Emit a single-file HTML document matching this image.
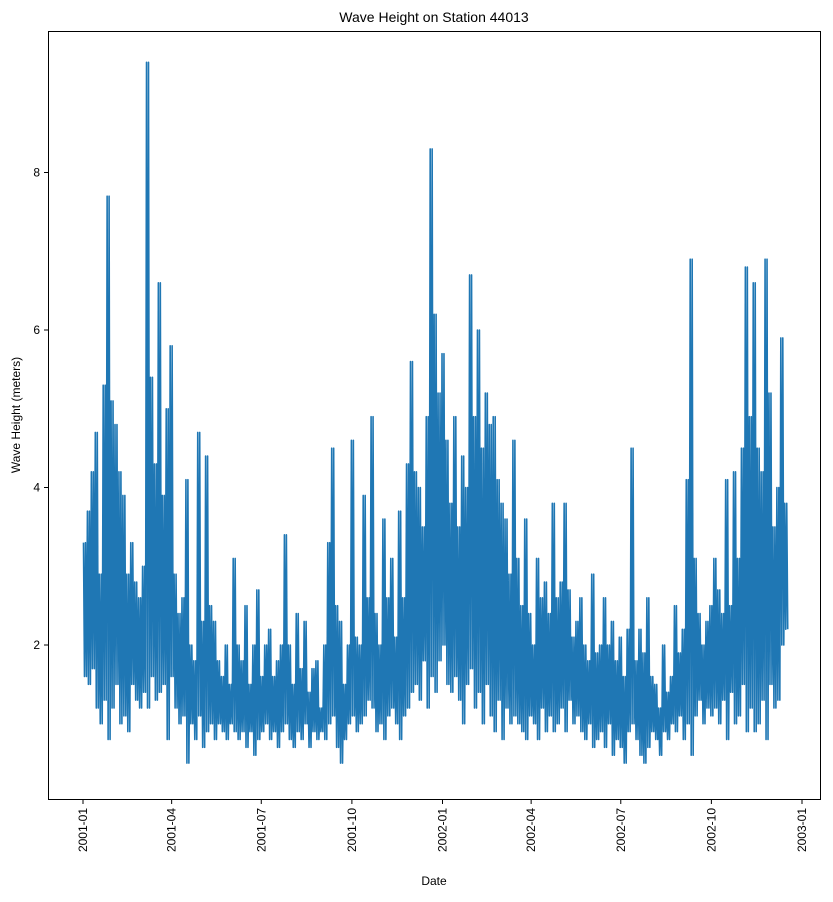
<!DOCTYPE html>
<html><head><meta charset="utf-8"><style>
body{margin:0;background:#fff;}
svg text{font-family:"Liberation Sans",sans-serif;fill:#000;}
</style></head><body>
<svg id="chart" width="833" height="897" xmlns="http://www.w3.org/2000/svg">
<rect width="833" height="897" fill="#fff"/>
<text x="434" y="22" font-size="14" text-anchor="middle">Wave Height on Station 44013</text>
<text transform="translate(20,415) rotate(-90)" font-size="12" text-anchor="middle">Wave Height (meters)</text>
<text x="434" y="885" font-size="12" text-anchor="middle">Date</text>
<g id="ticks"></g>
<polyline id="series" fill="none" stroke="#1f77b4" stroke-width="1.6" stroke-linejoin="round"/>
<rect x="48.5" y="31.5" width="772" height="768" fill="none" stroke="#000" stroke-width="1"/>
</svg>
<script>
const hiVals=[3.3,3.7,4.2,4.7,2.9,5.3,7.7,5.1,4.8,4.2,
3.9,2.9,3.3,2.8,2.6,3.0,9.4,5.4,4.3,6.6,
3.9,5.0,5.8,2.9,2.4,2.6,4.1,2.0,1.8,4.7,
2.3,4.4,2.5,2.3,1.8,1.6,2.0,1.5,3.1,2.0,
1.8,2.5,1.5,2.0,2.7,1.6,2.0,2.2,1.6,1.8,
2.0,3.4,2.0,1.5,2.4,1.7,2.3,1.4,1.7,1.8,
1.2,2.0,3.3,4.5,2.5,2.3,1.5,2.0,4.6,2.1,
2.0,3.9,2.6,4.9,2.4,2.0,3.6,2.6,3.1,2.1,
3.7,2.6,4.3,5.6,4.2,4.0,3.5,4.9,8.3,6.2,
5.2,5.7,4.6,3.8,4.9,3.5,4.4,4.0,6.7,4.9,
6.0,4.5,5.2,4.8,4.9,4.1,3.8,3.6,2.9,4.6,
3.1,2.5,3.6,2.4,2.0,3.1,2.6,2.8,2.4,3.8,
2.6,2.8,3.8,2.7,2.1,2.3,2.6,2.0,1.8,2.9,
1.9,2.0,2.6,2.0,2.3,1.8,2.1,1.6,2.2,4.5,
1.8,2.2,1.9,2.6,1.6,1.5,1.2,2.0,1.4,1.6,
2.5,1.9,2.2,4.1,6.9,3.1,2.4,2.0,2.3,2.5,
3.1,2.7,2.4,4.1,2.5,4.2,3.1,4.5,6.8,4.9,
6.6,4.5,4.2,6.9,5.2,3.5,4.0,5.9,3.8];
const loVals=[1.6,1.5,1.7,1.2,1.0,1.3,0.8,1.2,1.5,1.0,
1.1,0.9,1.5,1.3,1.2,1.4,1.2,1.6,1.3,1.4,
1.5,0.8,1.6,1.2,1.0,1.1,0.5,1.0,0.8,1.1,
0.7,0.9,1.0,0.8,1.0,0.9,0.8,1.0,0.9,0.8,
0.9,0.7,0.9,0.6,0.8,0.9,1.0,0.8,0.9,0.7,
0.9,1.0,0.8,0.7,0.9,0.8,1.0,0.7,0.9,0.8,
0.9,0.8,1.0,1.1,0.7,0.5,0.8,1.0,1.1,0.9,
1.0,1.1,1.3,1.2,0.9,1.0,0.8,1.1,1.2,1.0,
0.8,1.1,1.2,1.4,1.5,1.3,1.8,1.2,1.6,1.4,
1.8,2.0,1.5,1.4,1.6,1.3,1.0,1.5,1.7,1.2,
1.4,1.0,1.5,1.1,0.9,1.3,0.8,1.2,1.0,1.1,
1.0,0.9,0.8,1.1,1.0,0.8,1.2,0.9,1.1,0.9,
1.0,1.2,0.9,1.3,1.0,1.1,0.9,0.8,1.0,0.7,
0.8,0.9,0.7,1.0,0.6,0.8,0.7,0.5,0.9,1.0,
0.8,0.6,0.5,0.7,0.9,0.8,0.6,0.9,0.8,1.0,
0.9,1.1,0.8,1.0,0.6,1.1,1.3,1.0,1.2,1.1,
1.2,1.0,1.3,0.8,1.4,1.0,1.1,1.5,0.9,1.2,
0.9,1.0,1.3,0.8,1.5,1.2,1.3,2.0,2.2];
const yTickVals=[2,4,6,8];
const xTickLabels=["2001-01","2001-04","2001-07","2001-10","2002-01","2002-04","2002-07","2002-10","2003-01"];
const xTickDays=[0,90,181,273,365,455,546,638,730];
const windowDays=4;

const NS="http://www.w3.org/2000/svg";
function xs(day){return 83+day*(719/730);}
function ys(v){return 802.5-v*78.75;}
const pts=[];
for(let i=0;i<hiVals.length;i++){
  const d=i*windowDays;
  pts.push(xs(d+0.5).toFixed(2)+","+ys(hiVals[i]).toFixed(2));
  pts.push(xs(d+1.5).toFixed(2)+","+ys(loVals[i]).toFixed(2));
  pts.push(xs(d+2.5).toFixed(2)+","+ys(hiVals[i]).toFixed(2));
  pts.push(xs(d+3.5).toFixed(2)+","+ys(loVals[i]).toFixed(2));
}
document.getElementById('series').setAttribute('points',pts.join(' '));
const g=document.getElementById('ticks');
yTickVals.forEach(v=>{
  const y=ys(v);
  const l=document.createElementNS(NS,'line');
  l.setAttribute('x1',44);l.setAttribute('x2',48.5);l.setAttribute('y1',y);l.setAttribute('y2',y);l.setAttribute('stroke','#000');
  
  
  g.appendChild(l);
  const t=document.createElementNS(NS,'text');
  t.setAttribute('x',40);t.setAttribute('y',y+4);t.setAttribute('font-size','12');t.setAttribute('text-anchor','end');
  t.textContent=v;
  
  
  g.appendChild(t);
});
xTickLabels.forEach((lab,i)=>{
  const x=xs(xTickDays[i]);
  const l=document.createElementNS(NS,'line');
  l.setAttribute('x1',x);l.setAttribute('x2',x);l.setAttribute('y1',799.5);l.setAttribute('y2',804);l.setAttribute('stroke','#000');
  
  
  g.appendChild(l);
  const t=document.createElementNS(NS,'text');
  t.setAttribute('transform','translate('+(x+4)+',808) rotate(-90)');
  t.setAttribute('font-size','12');t.setAttribute('text-anchor','end');
  t.textContent=lab;
  
  
  g.appendChild(t);
});
</script>
</body></html>
